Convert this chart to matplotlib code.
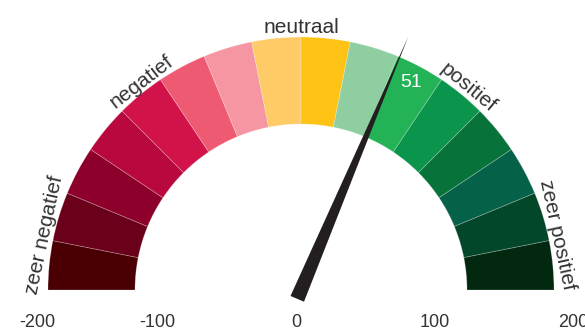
import numpy as np
import matplotlib
matplotlib.use('Agg')
import matplotlib.pyplot as plt
from matplotlib.patches import Wedge, Polygon

plt.rcParams['font.family'] = ['Liberation Sans', 'DejaVu Sans']

# gauge data
vmin, vmax = -200, 200
band_edges = np.arange(-200, 201, 25)
band_colors = ['#4a0003', '#6a0019', '#8e002c', '#b8083d', '#d11349', '#ef5a73',
               '#f596a2', '#fecb67', '#fec315', '#8ecea0', '#23b256', '#0b944b',
               '#07733a', '#056147', '#03472b', '#022910']
cat_labels = ['zeer negatief', 'negatief', 'neutraal', 'positief', 'zeer positief']
cat_pos = [-173, -83, 0, 88, 173]
tick_vals = [-200, -100, 0, 100, 200]
tick_labels = ['-200', '-100', '0', '100', '200']
value = 51

def ang(v):
    # value -> angle in degrees (180 at vmin, 0 at vmax)
    return 90 - v * 90.0 / vmax

fig = plt.figure(figsize=(5.85, 3.31), dpi=100)
ax = fig.add_axes([0, 0, 1, 1])
R = 253.0
ax.set_xlim(-301 / R, 284 / R)
ax.set_ylim(-41 / R, 290 / R)
ax.axis('off')

r_in = 166 / R
for i, c in enumerate(band_colors):
    a1, a2 = ang(band_edges[i + 1]), ang(band_edges[i])
    ax.add_patch(Wedge((0, 0), 1.0, a1, a2, width=1.0 - r_in,
                       facecolor=c, edgecolor=(1, 1, 1, 0.25), lw=0.6))

# category labels around the arc
for lab, v in zip(cat_labels, cat_pos):
    t = np.radians(ang(v))
    r = 1.015
    ax.text(r * np.cos(t), r * np.sin(t), lab, rotation=ang(v) - 90,
            rotation_mode='anchor', ha='center', va='baseline',
            fontsize=15, color='#333333')

# needle
t = np.radians(ang(value))
d = np.array([np.cos(t), np.sin(t)])
n = np.array([-np.sin(t), np.cos(t)])
tip = 1.086 * d
back = -0.038 * d
needle = Polygon([tip, back + 0.029 * n, back - 0.029 * n], closed=True,
                 facecolor='#231f20', edgecolor='none', zorder=5)
ax.add_patch(needle)

# value label
t2 = np.radians(ang(value + 11))
ax.text(0.93 * np.cos(t2), 0.93 * np.sin(t2), str(value), ha='center', va='center',
        fontsize=14, color='white', zorder=6)

# scale labels below
for v, lab in zip(tick_vals, tick_labels):
    x = (296 + 1.385 * v - 301) / R
    ha = 'left' if v == vmin else 'center'
    ax.text(x, -37 / R, lab, ha=ha, va='baseline', fontsize=13, color='#333333')

fig.savefig('out.png', dpi=100)
